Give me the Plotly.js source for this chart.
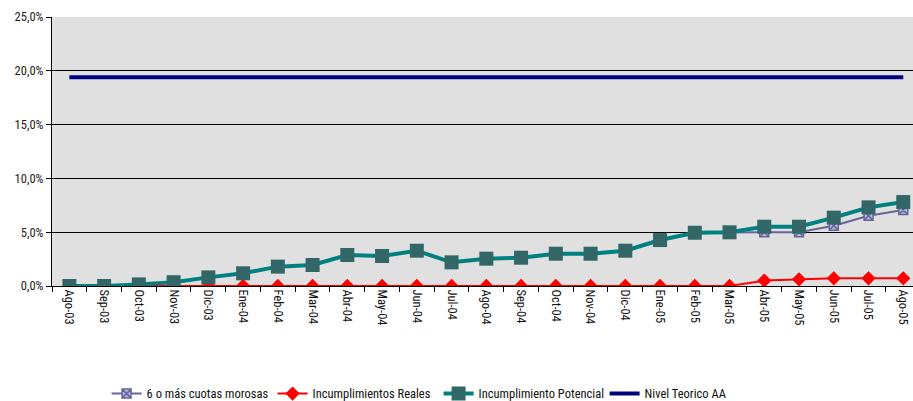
<!DOCTYPE html>
<html>
<head>
<meta charset="utf-8">
<script src="https://cdn.plot.ly/plotly-3.0.1.min.js"></script>
<style>
  html, body { margin: 0; padding: 0; background: #ffffff; }
  #chart { width: 913px; height: 401px; }
  /* narrow face for every label in the chart */
  #chart text { font-stretch: condensed; }
</style>
</head>
<body>
<div id="chart"></div>
<script>
// Monthly periods, Aug-2003 to Aug-2005
const months = ["Ago-03","Sep-03","Oct-03","Nov-03","Dic-03","Ene-04","Feb-04","Mar-04","Abr-04",
  "May-04","Jun-04","Jul-04","Ago-04","Sep-04","Oct-04","Nov-04","Dic-04","Ene-05","Feb-05",
  "Mar-05","Abr-05","May-05","Jun-05","Jul-05","Ago-05"];

// Percent values
const cuotasMorosas = [0.0,0.0,0.15,0.35,0.8,1.18,1.8,1.95,2.88,2.79,3.28,2.2,2.54,2.63,3.0,3.0,3.28,
  4.27,4.95,4.99,5.0,5.0,5.6,6.53,7.06];
const incumplimientosReales = [null,null,0.0,0.0,0.0,0.0,0.0,0.0,0.0,0.0,0.0,0.0,0.0,0.0,0.0,0.0,0.0,
  0.0,0.0,0.0,0.5,0.62,0.71,0.71,0.71];
const incumplimientoPotencial = [0.0,0.0,0.15,0.35,0.8,1.18,1.8,1.95,2.88,2.79,3.28,2.2,2.54,2.63,3.0,3.0,3.28,
  4.27,4.95,4.99,5.51,5.51,6.35,7.31,7.8];
const nivelTeorico = [19.4,19.4,19.4,19.4,19.4,19.4,19.4,19.4,19.4,19.4,19.4,19.4,19.4,19.4,19.4,19.4,19.4,
  19.4,19.4,19.4,19.4,19.4,19.4,19.4,19.4];

const seriesNames = ["6 o más cuotas morosas","Incumplimientos Reales","Incumplimiento Potencial","Nivel Teorico AA"];
const yTicks = [0,5,10,15,20,25];
const yTickText = ["0,0%","5,0%","10,0%","15,0%","20,0%","25,0%"];

const font = "Roboto, 'Liberation Sans', Arial, sans-serif";

const traces = [
  {
    x: months, y: cuotasMorosas, name: seriesNames[0], type: "scatter", mode: "lines+markers",
    line: { color: "#666699", width: 2 },
    marker: { symbol: "square-x", size: 9, color: "#b3b3e0", line: { color: "#666699", width: 1.5 } }
  },
  {
    x: months, y: incumplimientosReales, name: seriesNames[1], type: "scatter", mode: "lines+markers",
    line: { color: "#ff0000", width: 2 },
    marker: { symbol: "diamond", size: 11, color: "#ff0000" }
  },
  {
    x: months, y: incumplimientoPotencial, name: seriesNames[2], type: "scatter", mode: "lines+markers",
    line: { color: "#008080", width: 4 },
    marker: { symbol: "square", size: 14, color: "#336666", line: { color: "#336666", width: 0 } }
  },
  {
    x: months, y: nivelTeorico, name: seriesNames[3], type: "scatter", mode: "lines",
    line: { color: "#000080", width: 4 }
  }
];

const layout = {
  width: 913, height: 401,
  margin: { l: 52, r: 0, t: 17, b: 115 },
  paper_bgcolor: "#ffffff",
  plot_bgcolor: "#e0e0e0",
  font: { family: font, size: 12.5, color: "#000000" },
  showlegend: true,
  legend: {
    orientation: "h", xref: "paper", x: 0.449, xanchor: "center",
    yref: "container", y: 0.0175, yanchor: "middle",
    entrywidthmode: "pixels", entrywidth: 121,
    font: { family: font, size: 12.5, color: "#111111" }, itemwidth: 30, tracegroupgap: 0
  },
  xaxis: {
    type: "category", range: [-0.5, 24.28],
    tickangle: 90, ticks: "outside", ticklen: 5, tickcolor: "#000000",
    tickson: "boundaries", showgrid: false,
    showline: true, linecolor: "#000000", linewidth: 1,
    tickfont: { family: font, size: 12.5, color: "#111111" }
  },
  yaxis: {
    range: [0, 25], tickmode: "array", tickvals: yTicks, ticktext: yTickText,
    ticks: "outside", ticklen: 5, tickcolor: "#000000",
    showgrid: true, gridcolor: "#000000", gridwidth: 1,
    showline: true, linecolor: "#000000", linewidth: 1, zeroline: false,
    tickfont: { family: font, size: 12.5, color: "#222222" }
  }
};

Plotly.newPlot("chart", traces, layout, { displayModeBar: false, staticPlot: true });
</script>
</body>
</html>
